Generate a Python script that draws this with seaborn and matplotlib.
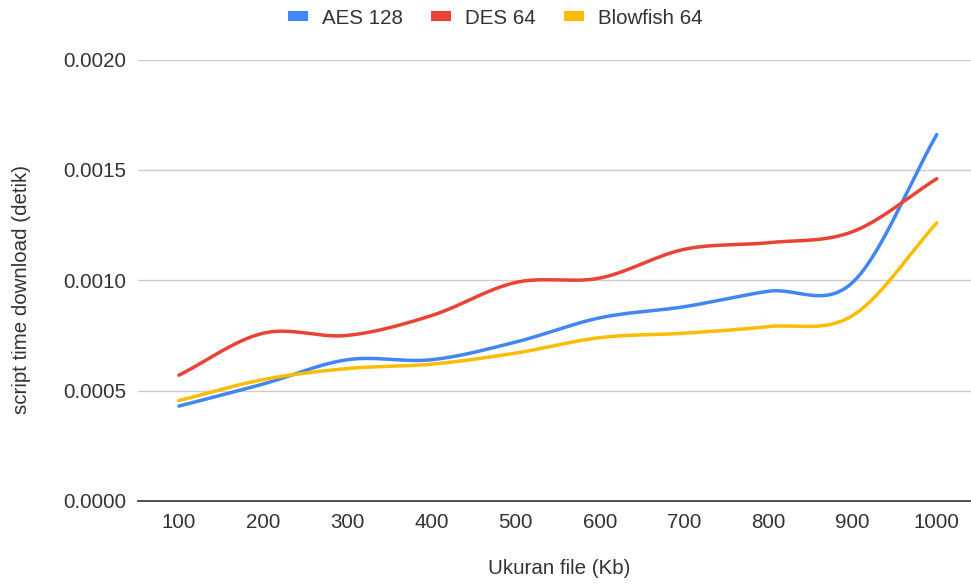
import numpy as np
import pandas as pd
import matplotlib
matplotlib.use("Agg")
import matplotlib.pyplot as plt
from matplotlib.patches import Rectangle
import seaborn as sns

# File sizes (Kb) and download script times (seconds)
file_sizes = [100, 200, 300, 400, 500, 600, 700, 800, 900, 1000]
aes_128 = [0.00043, 0.00053, 0.00064, 0.00064, 0.00072, 0.00083, 0.00088, 0.00095, 0.00099, 0.00166]
des_64 = [0.00057, 0.00076, 0.00075, 0.00084, 0.00099, 0.00101, 0.00114, 0.00117, 0.00122, 0.00146]
blowfish_64 = [0.000455, 0.00055, 0.00060, 0.00062, 0.00067, 0.00074, 0.00076, 0.00079, 0.00084, 0.00126]

series_names = ["AES 128", "DES 64", "Blowfish 64"]
series_values = [aes_128, des_64, blowfish_64]
colors = ["#4285F4", "#EA4335", "#FBBC04"]
y_ticks = [0.0, 0.0005, 0.0010, 0.0015, 0.0020]


def smooth(x, y, n=30):
    """Cubic Hermite curve through every point (Catmull-Rom tangents)."""
    x = np.asarray(x, float)
    y = np.asarray(y, float)
    m = np.zeros_like(y)
    m[1:-1] = (y[2:] - y[:-2]) / (x[2:] - x[:-2])
    m[0] = (y[1] - y[0]) / (x[1] - x[0])
    m[-1] = (y[-1] - y[-2]) / (x[-1] - x[-2])
    xs, ys = [], []
    for i in range(len(x) - 1):
        h = x[i + 1] - x[i]
        t = np.linspace(0, 1, n, endpoint=False)
        h00 = 2 * t**3 - 3 * t**2 + 1
        h10 = t**3 - 2 * t**2 + t
        h01 = -2 * t**3 + 3 * t**2
        h11 = t**3 - t**2
        xs.append(x[i] + t * h)
        ys.append(h00 * y[i] + h10 * h * m[i] + h01 * y[i + 1] + h11 * h * m[i + 1])
    xs.append([x[-1]])
    ys.append([y[-1]])
    return np.concatenate(xs), np.concatenate(ys)


frames = []
for name, vals in zip(series_names, series_values):
    sx, sy = smooth(file_sizes, vals)
    frames.append(pd.DataFrame({"size": sx, "time": sy, "series": name}))
df = pd.concat(frames, ignore_index=True)

sns.set_theme(style="white")
plt.rcParams["font.family"] = ["Liberation Sans", "DejaVu Sans"]

FS = 14.8
TXT = "#333333"

fig = plt.figure(figsize=(9.71, 5.85), dpi=100)
ax_w = 978 - 137.7
ax_h = 501 - 59.5
ax = fig.add_axes([137.7 / 971, 1 - 501 / 585, ax_w / 971, ax_h / 585])

sns.lineplot(data=df, x="size", y="time", hue="series", palette=colors,
             hue_order=series_names, linewidth=2.5, legend=False, ax=ax,
             estimator=None, sort=False)

ax.set_xlim(51, 1049)
ax.set_ylim(0, 0.0020)
ax.set_xticks(file_sizes)
ax.set_xticklabels([str(v) for v in file_sizes])
ax.set_yticks(y_ticks)
ax.set_yticklabels([f"{v:.4f}" for v in y_ticks])

for yv in y_ticks[1:]:
    ax.axhline(yv, color="#cccccc", linewidth=1.0, zorder=0)

for s in ["top", "right", "left"]:
    ax.spines[s].set_visible(False)
ax.spines["bottom"].set_color("#333333")
ax.spines["bottom"].set_linewidth(1.2)
ax.tick_params(axis="both", length=0, labelsize=FS, colors=TXT)
ax.tick_params(axis="y", pad=8.5)
ax.tick_params(axis="x", pad=9)

ax.set_xlabel("Ukuran file (Kb)", fontsize=FS, color=TXT)
ax.set_ylabel("script time download (detik)", fontsize=FS, color=TXT)
ax.xaxis.set_label_coords((559 - 137.7) / ax_w, -(559 - 501) / ax_h)
ax.yaxis.set_label_coords((31 - 137.7) / ax_w, (501 - 290) / ax_h)

handles = [Rectangle((0, 0), 1, 1, facecolor=c, edgecolor="none") for c in colors]
fig.legend(handles, series_names, loc="center", bbox_to_anchor=(495 / 971, 1 - 18 / 585),
           ncol=3, frameon=False, fontsize=FS, handlelength=0.98, handleheight=0.34,
           handletextpad=0.67, columnspacing=1.37, labelcolor=TXT,
           borderpad=0.0, borderaxespad=0.0)

fig.savefig("out.png", dpi=100)
